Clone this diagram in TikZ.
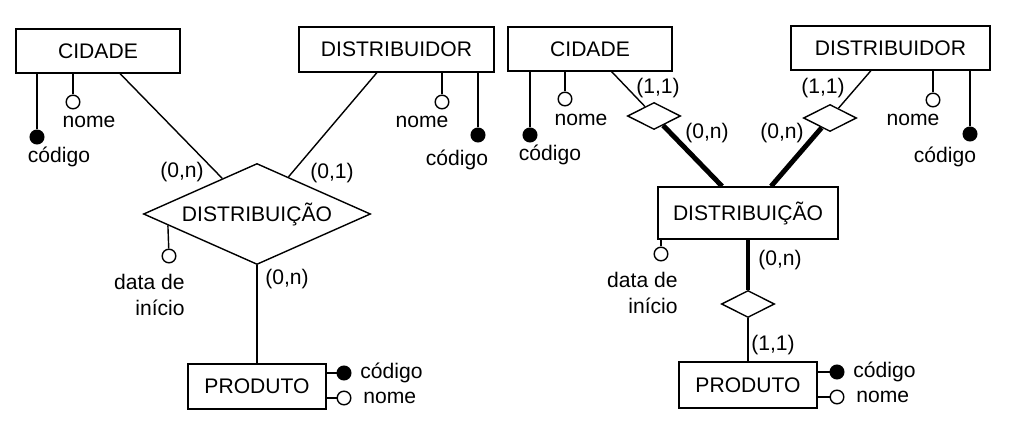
\documentclass[tikz,border=0pt]{standalone}
\usepackage{fontspec}
\setmainfont{Liberation Sans}
\usetikzlibrary{shapes.geometric, calc}

\begin{document}
\begin{tikzpicture}[x=0.025cm, y=-0.025cm, line width=1pt,
    font=\fontsize{15}{18.4}\selectfont,
    ent/.style={draw, rectangle, fill=white, inner sep=0pt},
    rel/.style={draw, diamond, fill=white, inner sep=0pt, aspect=2.25},
    wk/.style={draw, diamond, fill=white, inner sep=0pt, minimum width=1.325cm, minimum height=0.675cm},
    keyatt/.style={draw, circle, fill=black, inner sep=0pt, minimum size=0.34cm},
    att/.style={draw, circle, fill=white, inner sep=0pt, minimum size=0.34cm},
    heavy/.style={line width=3.5pt}]
  \useasboundingbox (0,0) rectangle (1016,431);

  % Model 1: DISTRIBUICAO as a relationship
  \begin{scope}[shift={(0,0)}]
    \node[ent, minimum width=4.1cm, minimum height=1.1cm] (cid1) at (98,51) {CIDADE};
    \node[ent, minimum width=4.875cm, minimum height=1.125cm] (dis1) at (396.5,49.5) {DISTRIBUIDOR};
    \node[rel, minimum width=5.675cm, minimum height=2.525cm] (rel1) at (257,214) {DISTRIBUIÇÃO};
    \node[ent, minimum width=3.45cm, minimum height=1.125cm] (pro1) at (257,386.5) {PRODUTO};

    \draw (cid1) -- (rel1);
    \draw (dis1) -- (rel1);
    \draw (rel1) -- (pro1);

    \node (c1a) at (182,172) {(0,n)};
    \node (c1b) at (332,173) {(0,1)};
    \node (c1c) at (287,279) {(0,n)};

    % attributes
    \node[keyatt] (cid1k) at (37,137) {};
    \node[att] (cid1n) at (73,102) {};
    \draw (cid1k) -- (cid1k |- cid1.south);
    \draw (cid1n) -- (cid1n |- cid1.south);
    \node (cid1kl) at (59,157) {código};
    \node (cid1nl) at (89,122) {nome};

    \node[att] (dis1n) at (442,102) {};
    \node[keyatt] (dis1k) at (478,135) {};
    \draw (dis1n) -- (dis1n |- dis1.south);
    \draw (dis1k) -- (dis1k |- dis1.south);
    \node (dis1nl) at (422,122) {nome};
    \node (dis1kl) at (457,160) {código};

    \node[att] (rel1d) at (169,256) {};
    \draw (rel1d) -- ($(rel1.west)!0.22!(rel1.south)$);
    \node[align=right, anchor=east] (rel1dl) at (190,295) {data de\\início};

    \node[keyatt] (pro1k) at (344,373) {};
    \node[att] (pro1n) at (344,398) {};
    \draw (pro1k) -- (pro1k -| pro1.east);
    \draw (pro1n) -- (pro1n -| pro1.east);
    \node[anchor=west] (pro1kl) at (355,373) {código};
    \node[anchor=west] (pro1nl) at (358,398) {nome};
  \end{scope}

  % Model 2: DISTRIBUICAO as an entity
  \begin{scope}[shift={(492,0)}]
    \node[ent, minimum width=4.1cm, minimum height=1.1cm] (cid2) at (98,49) {CIDADE};
    \node[ent, minimum width=4.975cm, minimum height=1.1cm] (dis2) at (398.5,48) {DISTRIBUIDOR};
    \node[ent, minimum width=4.5cm, minimum height=1.3cm] (rel2) at (256,213) {DISTRIBUIÇÃO};
    \node[ent, minimum width=3.45cm, minimum height=1.15cm] (pro2) at (256,385) {PRODUTO};

    \node[wk] (wa) at (162,116) {};
    \node[wk] (wb) at (338,118) {};
    \node[wk] (wc) at (256,304) {};

    \draw (cid2) -- (wa);
    \draw[heavy] (wa) -- (rel2);
    \draw (dis2) -- (wb);
    \draw[heavy] (wb) -- (rel2);
    \draw[heavy] (rel2) -- (wc);
    \draw (wc) -- (pro2);

    \node (c2a) at (166,88) {(1,1)};
    \node (c2b) at (215,133) {(0,n)};
    \node (c2c) at (331,88) {(1,1)};
    \node (c2d) at (290,133) {(0,n)};
    \node (c2e) at (288,260) {(0,n)};
    \node (c2f) at (281,345) {(1,1)};

    % attributes
    \node[keyatt] (cid2k) at (38,135) {};
    \node[att] (cid2n) at (73,99) {};
    \draw (cid2k) -- (cid2k |- cid2.south);
    \draw (cid2n) -- (cid2n |- cid2.south);
    \node (cid2kl) at (58,155) {código};
    \node (cid2nl) at (89,120) {nome};

    \node[att] (dis2n) at (441,100) {};
    \node[keyatt] (dis2k) at (478,134) {};
    \draw (dis2n) -- (dis2n |- dis2.south);
    \draw (dis2k) -- (dis2k |- dis2.south);
    \node (dis2nl) at (421,120) {nome};
    \node (dis2kl) at (453,157) {código};

    \node[att] (rel2d) at (169,254) {};
    \draw (rel2d) -- (rel2d |- rel2.south);
    \node[align=right, anchor=east] (rel2dl) at (191,293) {data de\\início};

    \node[keyatt] (pro2k) at (345,372) {};
    \node[att] (pro2n) at (345,397) {};
    \draw (pro2k) -- (pro2k -| pro2.east);
    \draw (pro2n) -- (pro2n -| pro2.east);
    \node[anchor=west] (pro2kl) at (356,372) {código};
    \node[anchor=west] (pro2nl) at (359,397) {nome};
  \end{scope}
\end{tikzpicture}
\end{document}
